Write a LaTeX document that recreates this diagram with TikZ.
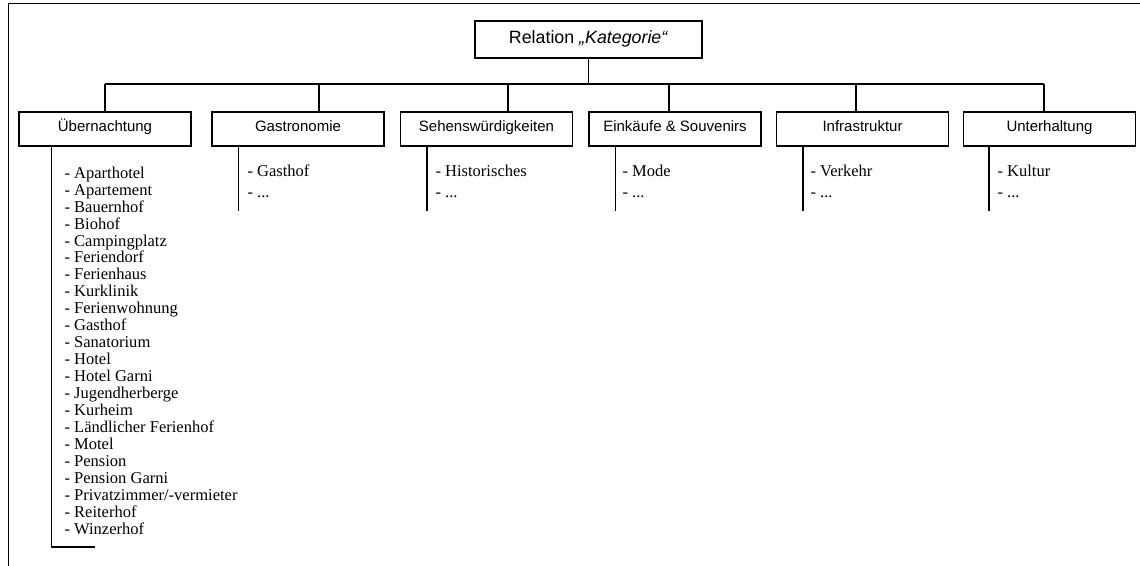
\documentclass[tikz,border=0pt]{standalone}
\usepackage{fontspec}
\setmainfont{Liberation Serif}
\setsansfont{Liberation Sans}
\usetikzlibrary{calc}

\begin{document}
\begin{tikzpicture}[x=0.03cm,y=-0.03cm,line width=0.95pt,
  catbox/.style={draw,minimum width=5.16cm,minimum height=1.02cm,inner sep=0pt,
    text height=0.75em,text depth=0.25em,
    font=\sffamily\fontsize{12.8pt}{15pt}\selectfont},
  itemlist/.style={anchor=base west,align=left,inner sep=0pt,
    font=\fontsize{14.1pt}{14.46pt}\selectfont},
  shortlist/.style={itemlist,font=\fontsize{14.1pt}{18.4pt}\selectfont}]
\useasboundingbox (0,0) rectangle (1140,566);

% Frame
\draw (8.5,566) -- (8.5,3.5) -- (1140,3.5);

% Root
\node[catbox,minimum width=6.81cm,minimum height=1.11cm,text depth=0.15em,
  font=\sffamily\fontsize{15.2pt}{18pt}\selectfont] (root) at (588.5,39.5)
  {Relation \textit{„Kategorie“}};

% Categories
\node[catbox] (uebern) at (105,129) {Übernachtung};
\node[catbox] (gastro) at (298,129) {Gastronomie};
\node[catbox] (sehens) at (486.5,129) {Sehenswürdigkeiten};
\node[catbox] (einkauf) at (675,129) {Einkäufe \& Souvenirs};
\node[catbox] (infra) at (862.5,129) {Infrastruktur};
\node[catbox] (unterh) at (1049.5,129) {Unterhaltung};

% Bar and drops
\coordinate (d1) at (105,84);
\coordinate (d2) at (319,84);
\coordinate (d3) at (508,84);
\coordinate (d4) at (669,84);
\coordinate (d5) at (856,84);
\coordinate (d6) at (1044,84);
\draw (root.south) -- (root.south |- d1);
\draw (d1) -- (d6);
\draw (d1) -- (d1 |- uebern.north);
\draw (d2) -- (d2 |- gastro.north);
\draw (d3) -- (d3 |- sehens.north);
\draw (d4) -- (d4 |- einkauf.north);
\draw (d5) -- (d5 |- infra.north);
\draw (d6) -- (d6 |- unterh.north);

% Lists (anchored at the baseline of their last line)
\coordinate (uend) at (95,547);
\draw ($(uebern.south west)+(33,0)$) |- (uend);
\draw ($(gastro.south west)+(27,0)$) -- ++(0,64);
\draw ($(sehens.south west)+(27,0)$) -- ++(0,64);
\draw ($(einkauf.south west)+(27,0)$) -- ++(0,64);
\draw ($(infra.south west)+(27,0)$) -- ++(0,64);
\draw ($(unterh.south west)+(26,0)$) -- ++(0,64);

\node[itemlist] (uebernlist) at (64,534) {- Aparthotel\\- Apartement\\- Bauernhof\\
  - Biohof\\- Campingplatz\\- Feriendorf\\- Ferienhaus\\- Kurklinik\\
  - Ferienwohnung\\- Gasthof\\- Sanatorium\\- Hotel\\- Hotel Garni\\
  - Jugendherberge\\- Kurheim\\- Ländlicher Ferienhof\\- Motel\\- Pension\\
  - Pension Garni\\- Privatzimmer/-vermieter\\- Reiterhof\\- Winzerhof};
\node[shortlist] (gastrolist) at (247,198) {- Gasthof\\- ...};
\node[shortlist] (sehenslist) at (435,198) {- Historisches\\- ...};
\node[shortlist] (einkauflist) at (622,198) {- Mode\\- ...};
\node[shortlist] (infralist) at (810,198) {- Verkehr\\- ...};
\node[shortlist] (unterhlist) at (997,198) {- Kultur\\- ...};
\end{tikzpicture}
\end{document}
